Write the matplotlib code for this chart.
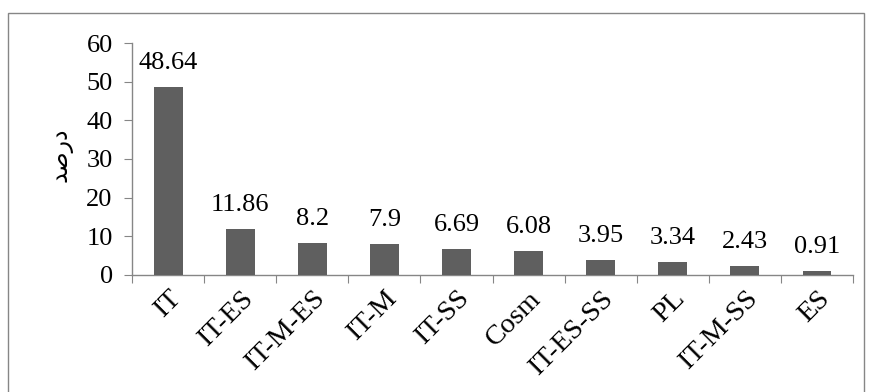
import matplotlib
matplotlib.use("Agg")
import matplotlib.pyplot as plt
import matplotlib.patches as mpatches
import numpy as np

categories = ["IT", "IT-ES", "IT-M-ES", "IT-M", "IT-SS", "Cosm", "IT-ES-SS", "PL", "IT-M-SS", "ES"]
values = [48.64, 11.86, 8.2, 7.9, 6.69, 6.08, 3.95, 3.34, 2.43, 0.91]
value_labels = ["48.64", "11.86", "8.2", "7.9", "6.69", "6.08", "3.95", "3.34", "2.43", "0.91"]
yticks = [0, 10, 20, 30, 40, 50, 60]

# "درصد" written in shaped presentation forms, visual order
ylabel = "\uFEAA\uFEBB\uFEAD\uFEA9"

plt.rcParams['font.family'] = ['Liberation Serif', 'DejaVu Sans']
grey = '#868686'
fs = 19

fig = plt.figure(figsize=(8.69, 3.92), dpi=100)
ax = fig.add_axes([0.152, 0.2985, 0.8296, 0.5918])

x = np.arange(len(categories))
ax.bar(x, values, width=0.4, color='#5f5f5f', zorder=3)

for xi, v, lab in zip(x, values, value_labels):
    ax.annotate(lab, (xi, v), xytext=(0, 13), textcoords='offset points',
                ha='center', va='baseline', fontsize=fs, color='black')

ax.set_xlim(-0.5, len(categories) - 0.5)
ax.set_ylim(0, 60)
ax.set_yticks(yticks)
ax.set_yticklabels([str(t) for t in yticks], fontsize=fs)

# ticks on category boundaries, labels centred under the bars
ax.set_xticks(np.arange(len(categories) + 1) - 0.5)
ax.set_xticklabels([])
ax.set_xticks(x, minor=True)
ax.set_xticklabels(categories, minor=True, rotation=45, ha='right',
                   rotation_mode='anchor', fontsize=20.5)
ax.tick_params(axis='x', which='minor', length=0, pad=8)
ax.tick_params(axis='x', which='major', length=6, color=grey, direction='out')
ax.tick_params(axis='y', length=6, color=grey, direction='out', pad=8)

for s in ['top', 'right']:
    ax.spines[s].set_visible(False)
for s in ['left', 'bottom']:
    ax.spines[s].set_color(grey)
    ax.spines[s].set_linewidth(1)

fig.text(0.07, 0.605, ylabel, rotation=90, ha='center', va='center',
         fontsize=17, family='DejaVu Sans')

# outer chart border
border = mpatches.Rectangle((8 / 869, -0.05), (864 - 8) / 869, 1.05 - 13 / 392,
                            transform=fig.transFigure, fill=False,
                            edgecolor=grey, linewidth=1)
fig.patches.append(border)

fig.savefig("out.png", dpi=100)
